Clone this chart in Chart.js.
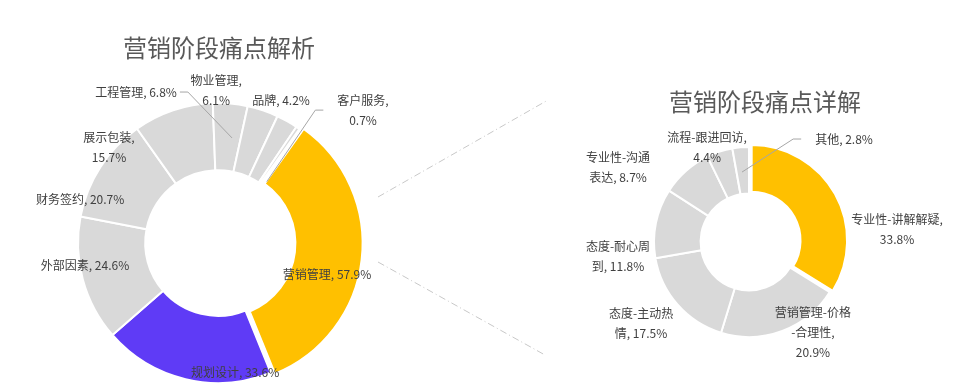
<!DOCTYPE html>
<html>
<head>
<meta charset="utf-8">
<script src="https://cdn.jsdelivr.net/npm/chart.js@4"></script>
<style>
  html, body { margin: 0; padding: 0; background: #fff; }
  .stage { position: relative; width: 955px; height: 387px; overflow: hidden; }
  .stage canvas { position: absolute; left: 0; top: 0; }
</style>
</head>
<body>
<div class="stage">
  <canvas id="leftChart" width="955" height="387"></canvas>
  <canvas id="rightChart" width="955" height="387"></canvas>
</div>
<script>
  const leftTitle = '营销阶段痛点解析';
  const leftCategories = ['营销管理', '规划设计', '外部因素', '财务签约', '展示包装', '工程管理', '物业管理', '品牌', '客户服务'];
  const leftValues = [57.9, 33.6, 24.6, 20.7, 15.7, 6.8, 6.1, 4.2, 0.7];

  const rightTitle = '营销阶段痛点详解';
  const rightCategories = ['专业性-讲解解疑', '营销管理-价格-合理性', '态度-主动热情', '态度-耐心周到', '专业性-沟通表达', '流程-跟进回访', '其他'];
  const rightValues = [33.8, 20.9, 17.5, 11.8, 8.7, 4.4, 2.8];

  const YELLOW = '#ffc000';
  const PURPLE = '#5f3bf6';
  const GRAY = '#d9d9d9';
  const FONT = '"Noto Sans CJK SC", "Microsoft YaHei", sans-serif';

  // label placement: [angle from top clockwise (deg), distance in outer radii]
  const leftLabelPos = [[105.9, 0.81], [172.5, 0.936], [260.6, 0.963], [287.7, 1.034], [311.1, 1.033], [331.5, 1.227], [359.3, 1.093], [23.8, 1.116], [47.5, 1.405]];
  // line breaks: ',' = after the comma, number = after n characters
  const leftWrap = [[], [], [], [], [','], [], [','], [], [',']];
  const leftLeaders = { 5: { side: 'right', gap: 3, end: [7.6, 0.757] }, 8: { side: 'left', gap: 14, end: [38.5, 0.56] } };

  const rightLabelPos = [[85, 1.564], [144.6, 1.162], [233.1, 1.421], [263.5, 1.388], [299.5, 1.584], [336.2, 1.093], [42.7, 1.475]];
  const rightWrap = [[','], [7, ','], [6], [6], [6], [','], []];
  const rightLeaders = { 6: { side: 'left', gap: 14, end: [354.3, 0.74] } };

  function splitLabel(name, value, wrap) {
    const full = name + ', ' + value.toFixed(1) + '%';
    const cuts = wrap.map(w => w === ',' ? name.length + 1 : w);
    const lines = [];
    let prev = 0;
    cuts.forEach(c => { lines.push(full.slice(prev, c).trim()); prev = c; });
    lines.push(full.slice(prev).trim());
    return lines;
  }

  const sliceLabels = {
    id: 'sliceLabels',
    afterDatasetsDraw(chart, args, opts) {
      const ctx = chart.ctx;
      const meta = chart.getDatasetMeta(0);
      const a0 = meta.data[0];
      const cx = a0.x, cy = a0.y, R = a0.outerRadius;
      const polar = (deg, d) => {
        const r = deg * Math.PI / 180;
        return [cx + d * R * Math.sin(r), cy - d * R * Math.cos(r)];
      };
      const values = chart.data.datasets[0].data;
      const names = chart.data.labels;
      ctx.save();
      ctx.font = '12px ' + FONT;
      ctx.textAlign = 'center';
      ctx.textBaseline = 'middle';
      const lh = 20;
      values.forEach((v, i) => {
        const lines = splitLabel(names[i], v, opts.wrap[i]);
        const [x, y] = polar(opts.pos[i][0], opts.pos[i][1]);
        const top = y - (lines.length - 1) * lh / 2;
        const lead = opts.leaders[i];
        if (lead) {
          const w = Math.max(...lines.map(l => ctx.measureText(l).width));
          const dir = lead.side === 'right' ? 1 : -1;
          const sx = x + dir * (w / 2 + lead.gap);
          const [ex, ey] = polar(lead.end[0], lead.end[1]);
          ctx.beginPath();
          ctx.strokeStyle = '#a6a6a6';
          ctx.lineWidth = 1;
          ctx.moveTo(sx, y);
          ctx.lineTo(sx + dir * 8, y);
          ctx.lineTo(ex, ey);
          ctx.stroke();
        }
        ctx.fillStyle = '#404040';
        lines.forEach((l, k) => ctx.fillText(l, x, top + k * lh));
      });
      ctx.font = '24px ' + FONT;
      ctx.fillStyle = '#595959';
      ctx.fillText(opts.title.text, opts.title.x, opts.title.y);
      if (opts.connectors) {
        ctx.strokeStyle = '#c8c8c8';
        ctx.lineWidth = 1;
        ctx.setLineDash([7, 3, 1, 3]);
        opts.connectors.forEach(c => {
          ctx.beginPath();
          ctx.moveTo(c[0], c[1]);
          ctx.lineTo(c[2], c[3]);
          ctx.stroke();
        });
      }
      ctx.restore();
    }
  };

  Chart.defaults.font.family = FONT;

  new Chart(document.getElementById('leftChart'), {
    type: 'doughnut',
    data: {
      labels: leftCategories,
      datasets: [{
        data: leftValues,
        backgroundColor: leftValues.map((v, i) => i === 0 ? YELLOW : i === 1 ? PURPLE : GRAY),
        borderColor: '#ffffff',
        borderWidth: 2,
        offset: leftValues.map((v, i) => i === 0 ? 16 : 0)
      }]
    },
    options: {
      responsive: false,
      animation: false,
      events: [],
      rotation: 35.5,
      radius: 140,
      cutout: '52%',
      layout: { padding: { left: 0, right: 519, top: 99, bottom: 0 } },
      plugins: {
        legend: { display: false },
        tooltip: { enabled: false },
        sliceLabels: {
          pos: leftLabelPos, wrap: leftWrap, leaders: leftLeaders,
          title: { text: leftTitle, x: 219, y: 48 }
        }
      }
    },
    plugins: [sliceLabels]
  });

  new Chart(document.getElementById('rightChart'), {
    type: 'doughnut',
    data: {
      labels: rightCategories,
      datasets: [{
        data: rightValues,
        backgroundColor: rightValues.map((v, i) => i === 0 ? YELLOW : GRAY),
        borderColor: '#ffffff',
        borderWidth: 2,
        offset: rightValues.map((v, i) => i === 0 ? 12 : 0)
      }]
    },
    options: {
      responsive: false,
      animation: false,
      events: [],
      rotation: 0,
      radius: 95,
      cutout: '51%',
      layout: { padding: { left: 543, right: 0, top: 97, bottom: 0 } },
      plugins: {
        legend: { display: false },
        tooltip: { enabled: false },
        sliceLabels: {
          pos: rightLabelPos, wrap: rightWrap, leaders: rightLeaders,
          title: { text: rightTitle, x: 765, y: 102 },
          connectors: [[378, 197, 548, 100], [378, 262, 545, 355]]
        }
      }
    },
    plugins: [sliceLabels]
  });
</script>
</body>
</html>
